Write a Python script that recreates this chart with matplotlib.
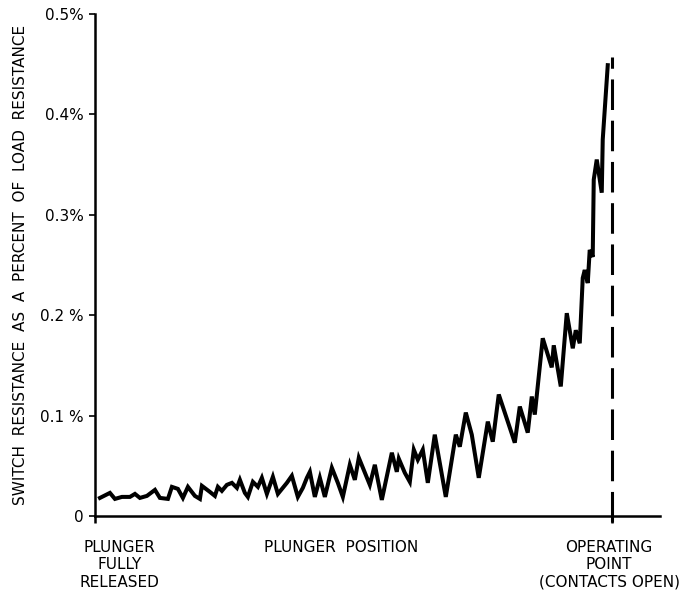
import matplotlib as mpl
import matplotlib.pyplot as plt

mpl.rcParams['font.family'] = ['DejaVu Sans']

# plunger travel, 0 = fully released, 100 = operating point
position = [
    0.97, 2.90, 3.87, 5.22, 6.77, 7.74, 8.70, 10.06, 11.61, 12.57,
    14.12, 14.89, 16.05, 17.02, 17.99, 19.34, 20.31, 20.70, 22.24, 23.21,
    23.79, 24.56, 25.53, 26.50, 27.47, 28.05, 29.01, 29.59, 30.56, 31.53,
    32.30, 33.27, 34.43, 35.40, 37.14, 38.10, 39.26, 40.23, 41.01, 41.59,
    42.55, 43.52, 44.49, 45.84, 47.00, 47.97, 49.32, 50.29, 51.06, 53.19,
    54.16, 55.51, 57.45, 58.41, 58.80, 59.96, 60.93, 61.70, 62.48, 63.44,
    64.41, 65.76, 67.89, 69.83, 70.60, 71.76, 72.92, 74.27, 76.02, 76.98,
    78.14, 81.24, 82.21, 83.75, 84.53, 85.11, 86.65, 88.39, 88.78, 90.14,
    91.30, 92.46, 93.04, 93.81, 94.39, 94.78, 95.36, 95.74, 96.32, 96.52,
    97.10, 98.07, 98.26, 99.23,
]
# switch resistance, percent of load resistance
resistance = [
    0.018, 0.023, 0.017, 0.019, 0.019, 0.022, 0.018, 0.020, 0.026, 0.018,
    0.017, 0.029, 0.027, 0.018, 0.029, 0.020, 0.017, 0.030, 0.024, 0.020,
    0.029, 0.025, 0.031, 0.033, 0.028, 0.036, 0.023, 0.019, 0.034, 0.029,
    0.038, 0.022, 0.039, 0.022, 0.033, 0.040, 0.019, 0.028, 0.038, 0.044,
    0.019, 0.038, 0.019, 0.048, 0.033, 0.019, 0.051, 0.036, 0.058, 0.031,
    0.051, 0.016, 0.063, 0.044, 0.057, 0.043, 0.034, 0.066, 0.056, 0.066,
    0.033, 0.081, 0.019, 0.081, 0.069, 0.103, 0.081, 0.038, 0.094, 0.074,
    0.121, 0.073, 0.109, 0.083, 0.119, 0.101, 0.177, 0.148, 0.170, 0.129,
    0.202, 0.167, 0.185, 0.172, 0.237, 0.245, 0.232, 0.265, 0.258, 0.335,
    0.355, 0.322, 0.375, 0.449,
]

Y_TICKS = [0, 0.1, 0.2, 0.3, 0.4, 0.5]
Y_LABELS = ['0', '0.1 %', '0.2 %', '0.3%', '0.4%', '0.5%']
OPERATING_POINT = 100
DASH_TOP = 0.457

fig = plt.figure(figsize=(6.88, 5.95), dpi=100)
ax = fig.add_axes([0.138, 0.1328, 0.821, 0.8437])

ax.plot(position, resistance, color='black', linewidth=2.9, solid_joinstyle='miter')
ax.plot([OPERATING_POINT, OPERATING_POINT], [-0.006, DASH_TOP], color='black',
        linewidth=2.2, dashes=(10, 3.5), clip_on=False)

ax.set_xlim(0, 109.3)
ax.set_ylim(0, 0.5)
ax.spines['top'].set_visible(False)
ax.spines['right'].set_visible(False)
ax.spines['left'].set_linewidth(1.8)
ax.spines['bottom'].set_linewidth(1.8)

ax.set_xticks([0, OPERATING_POINT])
ax.set_xticklabels([])
ax.tick_params(axis='x', direction='out', length=5, width=1.8)
ax.set_yticks(Y_TICKS)
ax.set_yticklabels(Y_LABELS, fontsize=11)
ax.tick_params(axis='y', direction='out', length=4, width=1.2, pad=4)

ax.set_ylabel('SWITCH  RESISTANCE  AS  A  PERCENT  OF  LOAD  RESISTANCE',
              fontsize=11, labelpad=9)

ax.text(4.8, -0.024, 'PLUNGER\nFULLY\nRELEASED', ha='center', va='top',
        fontsize=11, linespacing=1.2)
ax.text(47.6, -0.024, 'PLUNGER  POSITION', ha='center', va='top', fontsize=11)
ax.text(99.5, -0.024, 'OPERATING\nPOINT\n(CONTACTS OPEN)', ha='center', va='top',
        fontsize=11, linespacing=1.2, clip_on=False)

plt.savefig('out.png', dpi=100)
plt.close()
